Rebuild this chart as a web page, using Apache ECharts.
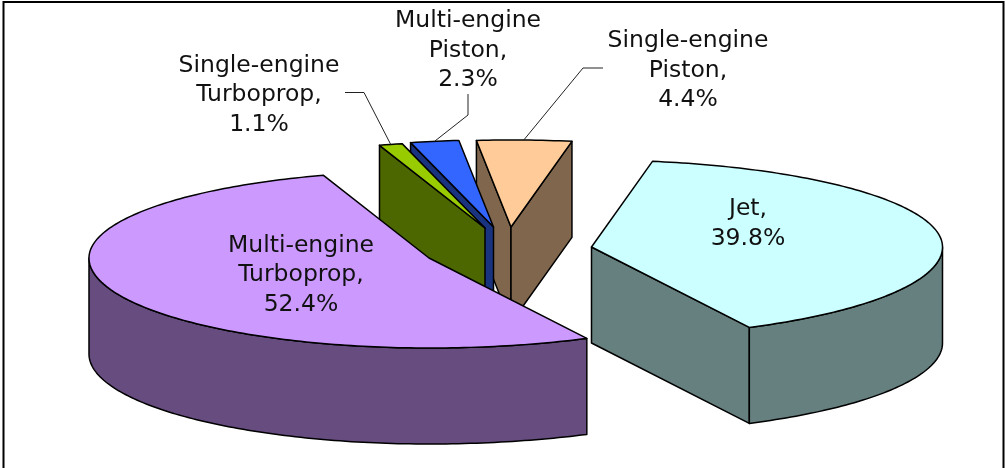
<!DOCTYPE html>
<html><head><meta charset="utf-8">
<style>html,body{margin:0;padding:0;background:#fff}#c{width:1005px;height:468px}</style>
<script src="https://cdn.jsdelivr.net/npm/echarts@6/dist/echarts.min.js"></script>
</head><body><div id="c"></div>
<script>
// data
const categories = ['Jet','Multi-engine Turboprop','Single-engine Turboprop','Multi-engine Piston','Single-engine Piston'];
const shares = [39.8,52.4,1.1,2.3,4.4];
// colours
const topColors = ['#CCFFFF','#CC99FF','#99CC00','#3366FF','#FFCC99'];
const sideColors = ['#667F7F','#664C7F','#4C6600','#1A337F','#7F664C'];
// layout
const startAngle = 10, radiusRight = 351, radiusLeft = 340, radiusUp = 87, radiusDown = 90, depth = 96;
const wedgeTips = [[591.5,247],[429,258],[485,228],[493.5,227],[511,227]];
const paintRank = [4,3,2,1,0];
const labelCentres = [[748,224],[301,275],[259,95],[468,50.5],[688,70.5]];
const leaderEnds = [null,null,[[364,92.5],[345,92.5]],[[468,115],[468,94]],[[583,68],[603,68]]];
const fontSpec = '23.5px "DejaVu Sans"', labelLine = 29.5;

const total = shares.reduce((a,b)=>a+b,0);
let acc = startAngle;
const spans = shares.map(v=>{const s=[acc,acc+v/total*360];acc=s[1];return s;});
const rad = d=>d*Math.PI/180;
function rimPoint(tip,deg,drop){
  const s=Math.sin(rad(deg)),c=Math.cos(rad(deg));
  return [tip[0]+(s>=0?radiusRight:radiusLeft)*s, tip[1]-(c>=0?radiusUp:radiusDown)*c+(drop||0)];
}
function arcPoints(tip,a,b,drop){
  const n=Math.max(2,Math.ceil(Math.abs(b-a))),pts=[];
  for(let i=0;i<=n;i++)pts.push(rimPoint(tip,a+(b-a)*i/n,drop));
  return pts;
}
function renderItem(params,api){
  const i=api.value(0), tip=wedgeTips[i], [a,b]=spans[i], z=paintRank[i]*10;
  const line={stroke:'#000',lineWidth:1.5,lineJoin:'round'};
  const kids=[];
  const poly=(pts,fill,k)=>kids.push({type:'polygon',shape:{points:pts},style:Object.assign({fill},line),z2:z+k});
  const tipLow=[tip[0],tip[1]+depth];
  // cut faces: only those turned towards the viewer
  [[a,-1],[b,1]].forEach(([t,sign])=>{
    if(Math.sin(rad(t))*sign>0){
      poly([tip,rimPoint(tip,t),rimPoint(tip,t,depth),tipLow],sideColors[i],1);
    }
  });
  // visible outer wall: only the near half of the rim, 90..270 degrees
  [0,360].forEach(off=>{
    const lo=Math.max(a,90+off),hi=Math.min(b,270+off);
    if(hi>lo){
      poly(arcPoints(tip,lo,hi,0).concat(arcPoints(tip,hi,lo,depth)),sideColors[i],2);
    }
  });
  poly([tip].concat(arcPoints(tip,a,b,0)),topColors[i],3);
  const mid=(a+b)/2;
  if(leaderEnds[i]){
    kids.push({type:'polyline',shape:{points:[rimPoint(tip,mid)].concat(leaderEnds[i])},
      style:{stroke:'#222',lineWidth:1,fill:null},z2:z+4});
  }
  const name=categories[i].replace(' ','\n')+',\n'+api.value(1).toFixed(1)+'%';
  kids.push({type:'text',x:labelCentres[i][0],y:labelCentres[i][1],
    style:{text:name,font:fontSpec,lineHeight:labelLine,fill:'#111',align:'center',verticalAlign:'middle'},z2:100});
  return {type:'group',children:kids};
}
const chart=echarts.init(document.getElementById('c'),null,{renderer:'canvas'});
chart.setOption({
  animation:false,
  backgroundColor:'#fff',
  graphic:[{type:'polyline',shape:{points:[[3.5,470],[3.5,2],[1003.5,2],[1003.5,470]]},
    style:{stroke:'#000',lineWidth:2,fill:null},silent:true}],
  series:[{type:'custom',coordinateSystem:'none',silent:true,renderItem,
    data:shares.map((v,i)=>[i,v])}]
});
</script></body></html>
